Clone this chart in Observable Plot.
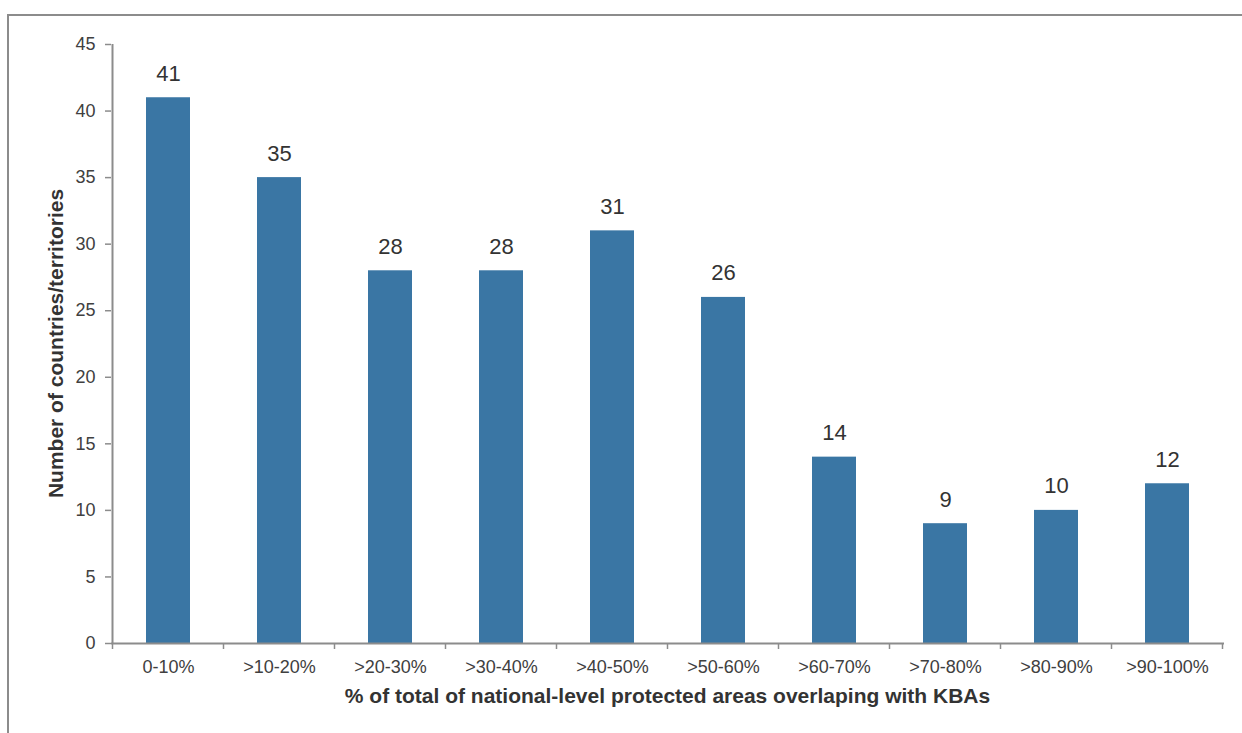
<!DOCTYPE html>
<html>
<head>
<meta charset="utf-8">
<script src="https://cdn.jsdelivr.net/npm/d3@7"></script>
<script src="https://cdn.jsdelivr.net/npm/@observablehq/plot@0.6"></script>
<style>
  html, body { margin: 0; padding: 0; background: #fff; }
  body { width: 1242px; height: 733px; position: relative; overflow: hidden; font-family: "Liberation Sans", Arial, sans-serif; }
  #frame { position: absolute; left: 7px; top: 14px; width: 1300px; height: 800px; border-top: 2px solid #8c8c8c; border-left: 2px solid #8c8c8c; }
  #chart { position: absolute; left: 0; top: 0; }
</style>
</head>
<body>
<div id="frame"></div>
<div id="chart"></div>
<script>
const categories = ["0-10%", ">10-20%", ">20-30%", ">30-40%", ">40-50%", ">50-60%", ">60-70%", ">70-80%", ">80-90%", ">90-100%"];
const counts = [41, 35, 28, 28, 31, 26, 14, 9, 10, 12];
const yTicks = [0, 5, 10, 15, 20, 25, 30, 35, 40, 45];
const xTitle = "% of total of national-level protected areas overlaping with KBAs";
const yTitle = "Number of countries/territories";

const data = categories.map((c, i) => ({category: c, value: counts[i]}));

const plot = Plot.plot({
  width: 1242,
  height: 733,
  marginLeft: 111,
  marginRight: 18,
  marginTop: 44,
  marginBottom: 90,
  style: {fontFamily: "'Liberation Sans', Arial, sans-serif", background: "transparent", overflow: "visible"},
  x: {domain: categories, paddingInner: 0.6, paddingOuter: 0.3, align: 0.5, label: null},
  y: {domain: [0, 45], label: null},
  marks: [
    Plot.barY(data, {x: "category", y: "value", fill: "#3a76a4", inset: 0}),
    Plot.text(data, {x: "category", y: "value", text: d => String(d.value), dy: -24, fontSize: 22, fill: "#333333", lineAnchor: "middle"}),
    Plot.axisY({ticks: yTicks, tickSize: 6, tickPadding: 10, fontSize: 18, color: "#404040", stroke: "#8c8c8c", strokeWidth: 1.5, label: null}),
    Plot.ruleY([0], {stroke: "#8c8c8c", strokeWidth: 2}),
    Plot.axisX({tickSize: 0, tickPadding: 17, fontSize: 18, color: "#404040", label: null})
  ]
});

document.getElementById("chart").appendChild(plot);

const xs = plot.scale("x");
const ys = plot.scale("y");
const svg = d3.select(plot);
const step = xs.step;
const bw = xs.bandwidth;
const boundaries = [];
categories.forEach((c, i) => {
  const center = xs.apply(c) + bw / 2;
  boundaries.push(center - step / 2);
  if (i === categories.length - 1) boundaries.push(center + step / 2);
});
const y0 = ys.apply(0);
const yTop = ys.apply(yTicks[yTicks.length - 1]);

// y axis line
svg.append("line")
  .attr("x1", boundaries[0]).attr("x2", boundaries[0])
  .attr("y1", yTop).attr("y2", y0)
  .attr("stroke", "#8c8c8c").attr("stroke-width", 2);

// x band boundary ticks
svg.append("g")
  .selectAll("line")
  .data(boundaries)
  .join("line")
  .attr("x1", d => d).attr("x2", d => d)
  .attr("y1", y0).attr("y2", y0 + 6)
  .attr("stroke", "#8c8c8c").attr("stroke-width", 1.5);

const xCenter = (boundaries[0] + boundaries[boundaries.length - 1]) / 2;
svg.append("text")
  .attr("x", xCenter).attr("y", y0 + 60)
  .attr("text-anchor", "middle")
  .attr("font-size", 21).attr("font-weight", "bold")
  .attr("fill", "#333333")
  .text(xTitle);

const yMid = (y0 + yTop) / 2;
svg.append("text")
  .attr("transform", `translate(63,${yMid}) rotate(-90)`)
  .attr("text-anchor", "middle")
  .attr("font-size", 21).attr("font-weight", "bold")
  .attr("fill", "#333333")
  .text(yTitle);
</script>
</body>
</html>
